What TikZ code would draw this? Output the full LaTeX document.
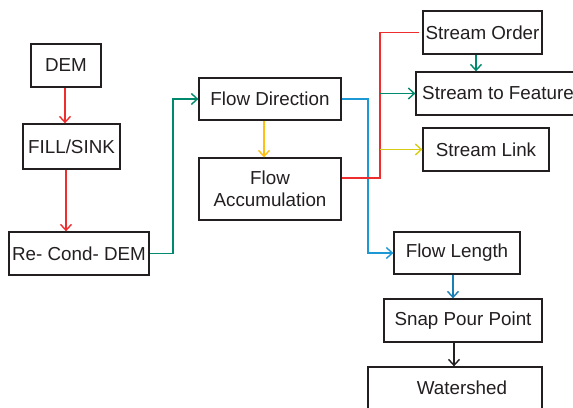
\documentclass[tikz,border=0pt]{standalone}
\usepackage{fontspec}
\setmainfont{Liberation Sans}
\usetikzlibrary{arrows.meta}
\definecolor{boxline}{HTML}{231F20}
\definecolor{cred}{HTML}{EE2D2F}
\definecolor{cteal}{HTML}{00896C}
\definecolor{camber}{HTML}{FDC013}
\definecolor{clemon}{HTML}{D6CC14}
\definecolor{cblue}{HTML}{1C98D4}
\definecolor{cdblue}{HTML}{1A7FB5}
\tikzset{
  box/.style={draw=boxline, line width=1.3pt, fill=white, inner sep=0pt,
    font=\fontsize{18.8}{22}\selectfont, text=boxline, align=center},
  link/.style={line width=1.6pt, -{Straight Barb[length=6pt,width=11pt,line width=1.4pt]}},
  plain/.style={line width=1.6pt}
}
\begin{document}
\begin{tikzpicture}[x=1pt,y=-1pt]
\useasboundingbox (0,0) rectangle (573,407);
% process boxes
\node[box, minimum width=70pt, minimum height=43pt] (dem) at (66,65.5) {DEM};
\node[box, minimum width=97pt, minimum height=45pt] (fill) at (71.5,146.5) {FILL/SINK};
\node[box, minimum width=140pt, minimum height=43pt] (recond) at (79,253.5) {Re- Cond- DEM};
\node[box, minimum width=142pt, minimum height=42pt] (fdir) at (270,99) {Flow Direction};
\node[box, minimum width=142pt, minimum height=62pt] (facc) at (270,189) {Flow\\Accumulation};
\node[box, minimum width=119pt, minimum height=43pt] (sorder) at (482.5,32.5) {Stream Order};
\node[box, minimum width=164pt, minimum height=43pt] (sfeat) at (498,93.5) {Stream to Feature};
\node[box, minimum width=126pt, minimum height=43pt] (slink) at (486,149.5) {Stream Link};
\node[box, minimum width=126pt, minimum height=42pt] (flen) at (457,253) {Flow Length};
\node[box, minimum width=158pt, minimum height=43pt] (snap) at (463,320.5) {Snap Pour Point};
\node[box, minimum width=174pt, minimum height=42pt] (wshed) at (455,388) {\hspace*{14pt}Watershed};
% branch points of the routed connectors
\coordinate (tealbend) at (173,0);
\coordinate (bluebend) at (368,0);
\coordinate (redbend) at (380,0);
% connectors
\draw[link, cred] (dem.south -| 65,0) -- (fill.north -| 65,0);
\draw[link, cred] (fill.south -| 66,0) -- (recond.north -| 66,0);
\draw[link, cteal] (recond.east) -- (recond.east -| tealbend) |- (fdir.west);
\draw[link, camber] (fdir.south -| 264,0) -- (facc.north -| 264,0);
\draw[link, cblue] (fdir.east) -- (fdir.east -| bluebend) |- (flen.west);
\draw[plain, cred] (facc.east |- 0,178) -- (redbend |- 0,178) |- ([xshift=-3pt]sorder.west);
\draw[link, cteal] (redbend |- sfeat.west) -- (sfeat.west);
\draw[link, clemon] (redbend |- slink.west) -- (slink.west);
\draw[link, cteal] (sorder.south -| 476,0) -- (sfeat.north -| 476,0);
\draw[link, cdblue] (flen.south -| 453,0) -- (snap.north -| 453,0);
\draw[link, boxline] (snap.south -| 454,0) -- (wshed.north -| 454,0);
\end{tikzpicture}
\end{document}
